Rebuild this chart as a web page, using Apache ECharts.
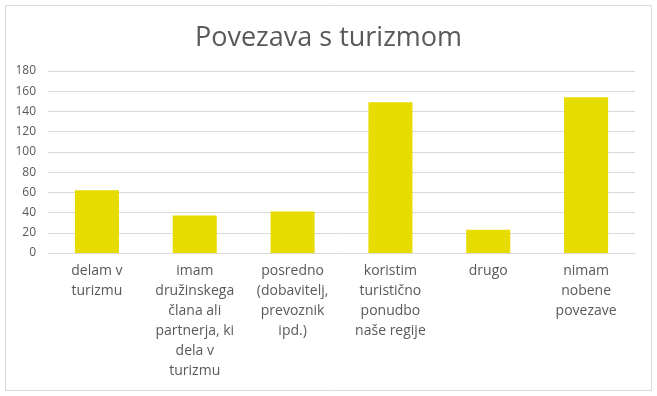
<!DOCTYPE html>
<html><head><meta charset="utf-8">
<script src="https://cdn.jsdelivr.net/npm/echarts@6/dist/echarts.min.js"></script>
<style>html,body{margin:0;padding:0;background:#fff}#c{width:657px;height:396px}</style>
</head><body><div id="c"></div>
<script>
const title = "Povezava s turizmom";
const categories = [
  "delam v\nturizmu",
  "imam\ndružinskega\nčlana ali\npartnerja, ki\ndela v\nturizmu",
  "posredno\n(dobavitelj,\nprevoznik\nipd.)",
  "koristim\nturistično\nponudbo\nnaše regije",
  "drugo",
  "nimam\nnobene\npovezave"
];
const values = [62, 37, 41, 149, 23, 154];
const yMin = 0, yMax = 180, yStep = 20;

const chart = echarts.init(document.getElementById('c'), null, {renderer: 'canvas'});
chart.setOption({
  animation: false,
  backgroundColor: '#fff',
  title: {
    text: title, left: 'center', top: 20,
    textStyle: {fontFamily: 'Open Sans', fontSize: 27, fontWeight: 'normal', color: '#595959'}
  },
  graphic: [{
    type: 'rect', shape: {x: 5.5, y: 5.5, width: 646, height: 385},
    style: {fill: 'none', stroke: '#d9d9d9', lineWidth: 1}, silent: true
  }],
  grid: {left: 48, right: 22, top: 71, bottom: 143},
  xAxis: {
    type: 'category', data: categories,
    axisLine: {show: true, lineStyle: {color: '#d9d9d9'}},
    axisTick: {show: false},
    axisLabel: {color: '#595959', fontFamily: 'Open Sans', fontSize: 14, lineHeight: 20, margin: 8, interval: 0}
  },
  yAxis: {
    type: 'value', min: yMin, max: yMax, interval: yStep,
    axisLine: {show: false}, axisTick: {show: false},
    splitLine: {lineStyle: {color: '#d9d9d9'}},
    axisLabel: {color: '#595959', fontFamily: 'Open Sans', fontSize: 12, margin: 12}
  },
  series: [{
    type: 'bar', data: values, barWidth: '45%',
    itemStyle: {color: '#e6dc00'}
  }]
});
</script></body></html>
